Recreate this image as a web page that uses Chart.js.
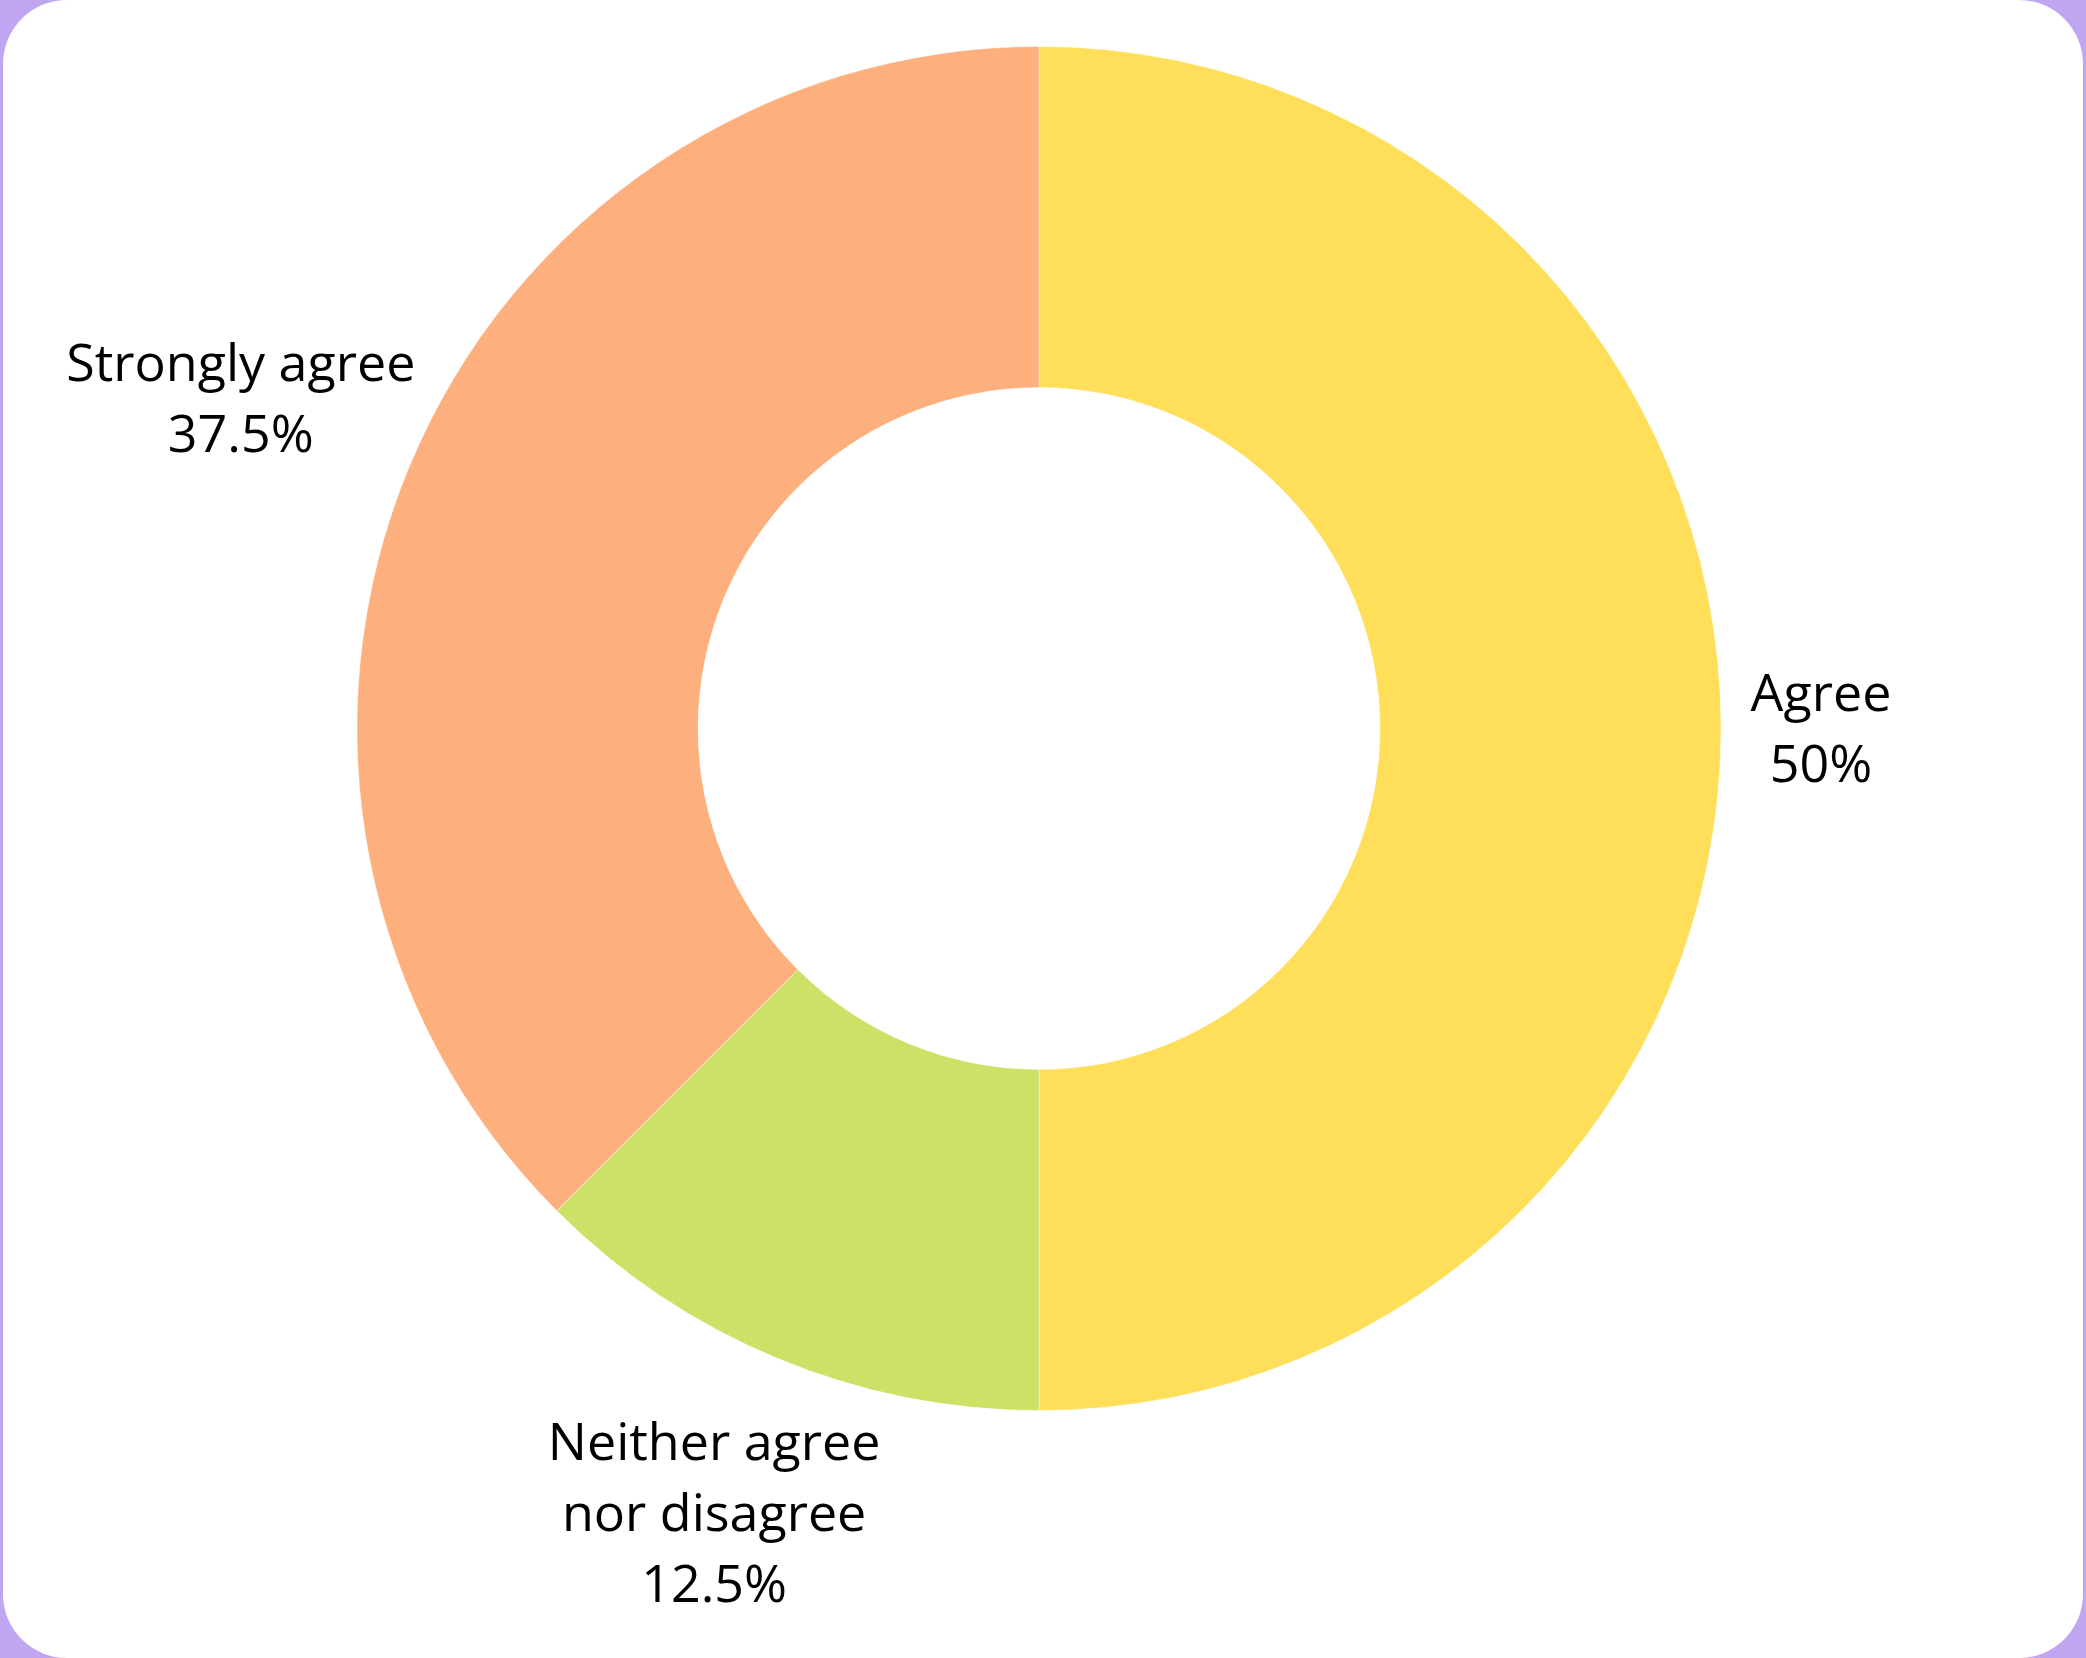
<!DOCTYPE html>
<html>
<head>
<meta charset="utf-8">
<script src="https://cdn.jsdelivr.net/npm/chart.js@4"></script>
<style>
	html, body {
		margin: 0;
		padding: 0;
		width: 2086px;
		height: 1658px;
		background: #c0a6f0;
		overflow: hidden;
	}
	#card {
		position: absolute;
		left: 3px;
		right: 3px;
		top: 0;
		bottom: 0;
		background: #ffffff;
		border-radius: 64px;
	}
	#wrap {
		position: absolute;
		left: 0;
		top: 0;
		width: 2086px;
		height: 1658px;
	}
</style>
</head>
<body>
<div id="card"></div>
<div id="wrap"><canvas id="chart"></canvas></div>
<script>
const labels = ["Agree", "Neither agree\nnor disagree", "Strongly agree"];
const shares = [50, 12.5, 37.5];
const colours = ["#ffde5a", "#cbe266", "#fdb07e"];

// draws "name\nxx%" outside each slice, centred on the slice's middle angle
const outsideLabels = {
	id: "outsideLabels",
	afterDatasetsDraw(chart) {
		let ctx = chart.ctx;
		let meta = chart.getDatasetMeta(0);
		let fontSize = 52;
		let lineHeight = 71;
		let offset = [100, 167, 182]; // distance past the ring, per slice
		ctx.save();
		ctx.font = fontSize + "px 'Open Sans', 'Noto Sans', sans-serif";
		ctx.fillStyle = "#000000";
		ctx.textAlign = "center";
		ctx.textBaseline = "alphabetic";
		meta.data.forEach((arc, i) => {
			let p = arc.getProps(["x", "y", "startAngle", "endAngle", "outerRadius"], true);
			let mid = (p.startAngle + p.endAngle) / 2;
			let lines = labels[i].split("\n");
			lines.push(shares[i] + "%");
			let capH = fontSize * 0.71;
			let h = capH + lineHeight * (lines.length - 1);
			let r = p.outerRadius + offset[i];
			let cx = p.x + Math.cos(mid) * r;
			let cy = p.y + Math.sin(mid) * r;
			let top = cy - h / 2;
			lines.forEach((l, k) => {
				ctx.fillText(l, cx, top + capH + k * lineHeight);
			});
		});
		ctx.restore();
	}
};

let ctx = document.getElementById("chart").getContext("2d");
new Chart(ctx, {
	type: "doughnut",
	data: {
		labels: labels,
		datasets: [{
			data: shares,
			backgroundColor: colours,
			borderColor: "rgba(255,255,255,0.4)",
			borderWidth: 1
		}]
	},
	options: {
		responsive: true,
		maintainAspectRatio: false,
		animation: false,
		cutout: "50%",
		layout: {
			padding: { top: 46, bottom: 247, left: 0, right: 8 }
		},
		plugins: {
			legend: { display: false },
			tooltip: { enabled: false }
		}
	},
	plugins: [outsideLabels]
});
</script>
</body>
</html>
